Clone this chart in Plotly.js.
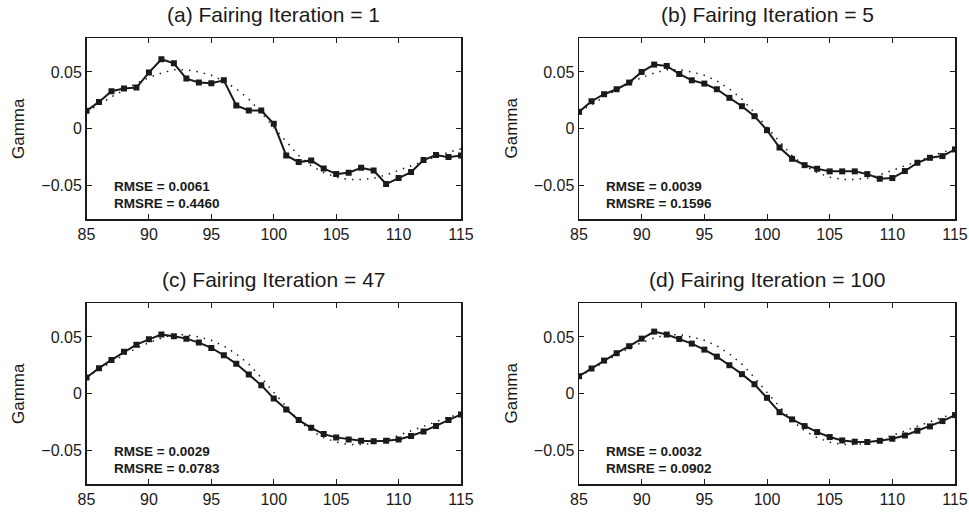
<!DOCTYPE html>
<html>
<head>
<meta charset="utf-8">
<script src="https://cdn.plot.ly/plotly-3.0.1.min.js"></script>
<style>html,body{margin:0;padding:0;background:#fff;}#chart{width:969px;height:512px;}</style>
</head>
<body>
<div id="chart"></div>
<script>
// Strike values 85..115
const strikes = [85,86,87,88,89,90,91,92,93,94,95,96,97,98,99,100,101,102,103,104,105,106,107,108,109,110,111,112,113,114,115];
// True (dotted) gamma curve
const trueGamma = [0.015,0.021,0.028,0.034,0.040,0.045,0.049,0.052,0.052,0.050,0.047,0.042,0.035,0.026,0.014,0.001,-0.012,-0.024,-0.033,-0.039,-0.043,-0.045,-0.045,-0.044,-0.041,-0.037,-0.033,-0.029,-0.025,-0.021,-0.018];
// Faired gamma after iterations
const iter1 = [0.0156,0.0235,0.0330,0.0353,0.0362,0.0494,0.0612,0.0576,0.0441,0.0406,0.0400,0.0426,0.0203,0.0159,0.0159,0.0041,-0.0238,-0.0297,-0.0282,-0.0353,-0.0403,-0.0391,-0.0347,-0.0371,-0.0491,-0.0438,-0.0385,-0.0279,-0.0235,-0.0253,-0.0238];
const iter5 = [0.0147,0.0241,0.0303,0.0347,0.0406,0.0500,0.0565,0.0553,0.0482,0.0426,0.0397,0.0347,0.0271,0.0197,0.0109,-0.0015,-0.0168,-0.0268,-0.0324,-0.0356,-0.0379,-0.0379,-0.0379,-0.0403,-0.0444,-0.0438,-0.0376,-0.0303,-0.0259,-0.0244,-0.0185];
const iter47 = [0.0141,0.0224,0.0297,0.0368,0.0432,0.0479,0.0521,0.0506,0.0485,0.0450,0.0403,0.0338,0.0262,0.0168,0.0074,-0.0044,-0.0141,-0.0235,-0.0303,-0.0359,-0.0388,-0.0406,-0.0418,-0.0421,-0.0418,-0.0406,-0.0376,-0.0335,-0.0288,-0.0235,-0.0185];
const iter100 = [0.0153,0.0221,0.0291,0.0356,0.0418,0.0485,0.0547,0.0521,0.0482,0.0441,0.0388,0.0326,0.0250,0.0171,0.0082,-0.0038,-0.0165,-0.0229,-0.0288,-0.0341,-0.0385,-0.0415,-0.0426,-0.0429,-0.0418,-0.0400,-0.0371,-0.0329,-0.0291,-0.0244,-0.0191];
const panelTitles = ["(a) Fairing Iteration = 1","(b) Fairing Iteration = 5","(c) Fairing Iteration = 47","(d) Fairing Iteration = 100"];
const rmse = ["0.0061","0.0039","0.0029","0.0032"];
const rmsre = ["0.4460","0.1596","0.0783","0.0902"];
const xTicks = [85,90,95,100,105,110,115];
const yTicks = [-0.05,0,0.05];
const yTickText = ["\u22120.05","0","0.05"];

const W = 969, H = 512;
const cols = [[86.5,461],[579,955]];
const rows = [[38,219],[303,484]];
const series = [iter1, iter5, iter47, iter100];
const FONT = "Liberation Sans, Arial, Helvetica, sans-serif";
const INK = "#1a1a1a";

const traces = [];
const layout = {
  width: W, height: H,
  margin: {l:0,r:0,t:0,b:0},
  paper_bgcolor: "#fff", plot_bgcolor: "#fff",
  showlegend: false,
  font: {family: FONT, color: INK, size: 16},
  annotations: []
};

for (let i = 0; i < 4; i++) {
  const c = cols[i % 2], r = rows[Math.floor(i / 2)];
  const n = i + 1;
  const xa = "xaxis" + (n === 1 ? "" : n), ya = "yaxis" + (n === 1 ? "" : n);
  const xr = "x" + (n === 1 ? "" : n), yr = "y" + (n === 1 ? "" : n);
  layout[xa] = {
    domain: [c[0] / W, c[1] / W], anchor: yr,
    range: [85, 115], tickmode: "array", tickvals: xTicks,
    ticks: "inside", ticklen: 5, tickwidth: 1, tickcolor: INK,
    showline: true, linecolor: INK, linewidth: 1.5, mirror: "ticks",
    showgrid: false, zeroline: false,
    tickfont: {size: 16, color: INK, family: FONT}
  };
  layout[ya] = {
    domain: [1 - r[1] / H, 1 - r[0] / H], anchor: xr,
    range: [-0.08, 0.08], tickmode: "array", tickvals: yTicks, ticktext: yTickText,
    ticks: "inside", ticklen: 5, tickwidth: 1, tickcolor: INK,
    showline: true, linecolor: INK, linewidth: 1.5, mirror: "ticks",
    showgrid: false, zeroline: false,
    tickfont: {size: 16, color: INK, family: FONT}
  };
  traces.push({
    x: strikes, y: trueGamma, xaxis: xr, yaxis: yr, type: "scatter", mode: "lines",
    line: {color: INK, width: 1.5, dash: "1.5px,6px"}, hoverinfo: "skip"
  });
  traces.push({
    x: strikes, y: series[i], xaxis: xr, yaxis: yr, type: "scatter", mode: "lines+markers",
    line: {color: INK, width: 2}, marker: {symbol: "square", size: 6, color: INK}
  });
  // panel title
  layout.annotations.push({
    text: panelTitles[i], xref: "paper", yref: "paper",
    x: (c[0] + c[1]) / 2 / W, y: 1 - (r[0] - 24) / H,
    xanchor: "center", yanchor: "middle", showarrow: false,
    font: {size: 21, color: INK, family: FONT}
  });
  // y title
  layout.annotations.push({
    text: "Gamma", xref: "paper", yref: "paper",
    x: (c[0] - 68) / W, y: 1 - ((r[0] + r[1]) / 2) / H,
    xanchor: "center", yanchor: "middle", textangle: -90, showarrow: false,
    font: {size: 17, color: INK, family: FONT}
  });
  // stats text
  layout.annotations.push({
    text: "<b>RMSE = " + rmse[i] + "</b>", xref: xr + " domain", yref: yr + " domain",
    x: 0.067, y: 0.178, xanchor: "left", yanchor: "middle", showarrow: false,
    font: {size: 13.5, color: INK, family: FONT}
  });
  layout.annotations.push({
    text: "<b>RMSRE = " + rmsre[i] + "</b>", xref: xr + " domain", yref: yr + " domain",
    x: 0.067, y: 0.086, xanchor: "left", yanchor: "middle", showarrow: false,
    font: {size: 13.5, color: INK, family: FONT}
  });
}

Plotly.newPlot("chart", traces, layout, {staticPlot: true, displayModeBar: false});
</script>
</body>
</html>
